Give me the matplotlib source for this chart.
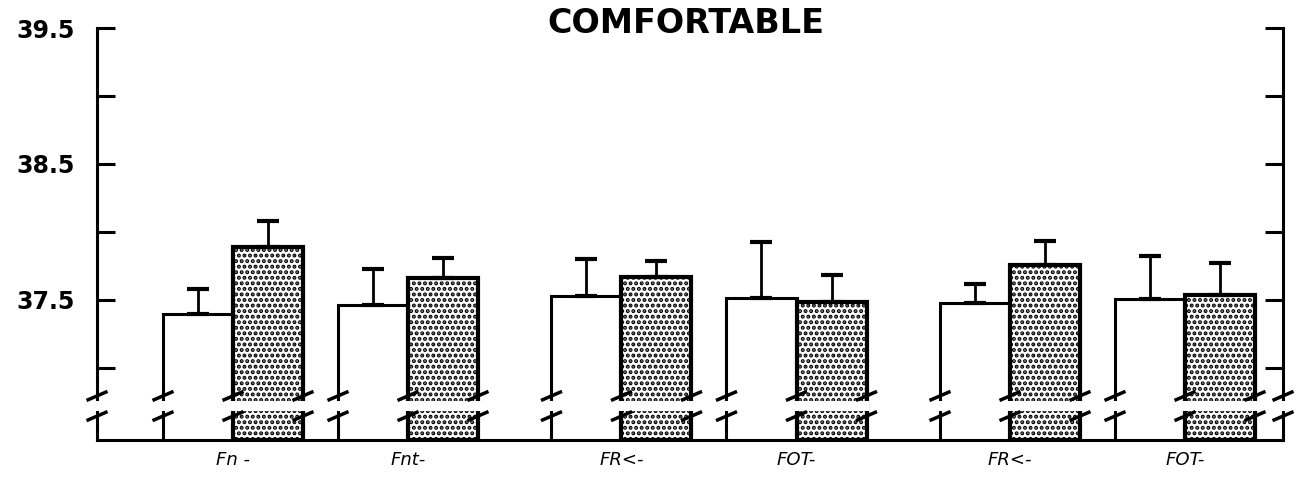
import matplotlib.pyplot as plt
import matplotlib.transforms as mtransforms
import numpy as np

# data
groups = ['Fn -', 'Fnt-', 'FR<-', 'FOT-', 'FR<-', 'FOT-']
centers = np.array([0, 1, 2.22, 3.22, 4.44, 5.44])
white_vals = np.array([37.40, 37.46, 37.53, 37.515, 37.48, 37.51])
white_err = np.array([0.18, 0.27, 0.27, 0.41, 0.14, 0.31])
dot_vals = np.array([37.89, 37.66, 37.67, 37.485, 37.76, 37.54])
dot_err = np.array([0.19, 0.15, 0.12, 0.195, 0.17, 0.23])
yticks = [37.0, 37.5, 38.0, 38.5, 39.0, 39.5]
ylabels = ['', '37.5', '', '38.5', '', '39.5']

ylow, yhigh = 36.47, 39.5
w = 0.4

plt.rcParams['hatch.linewidth'] = 2.0

fig = plt.figure(figsize=(13.04, 4.84), dpi=100)
ax = fig.add_axes([0.0744, 0.0909, 0.9095, 0.8512])

# white bars and stippled bars, drawn from the bottom of the axes
ax.bar(centers - w/2, white_vals - ylow, bottom=ylow, width=w,
       facecolor='white', edgecolor='black', linewidth=2.2, zorder=3)
ax.bar(centers + w/2, dot_vals - ylow, bottom=ylow, width=w,
       facecolor='white', edgecolor='black', hatch='...', linewidth=3, zorder=3)

# error bars, upward only
ax.errorbar(centers - w/2, white_vals, yerr=[np.zeros_like(white_err), white_err],
            fmt='none', ecolor='black', elinewidth=2, capsize=8, capthick=3, zorder=4)
ax.errorbar(centers + w/2, dot_vals, yerr=[np.zeros_like(dot_err), dot_err],
            fmt='none', ecolor='black', elinewidth=2, capsize=8, capthick=3, zorder=4)

ax.set_xlim(-0.777, 6.0)
ax.set_ylim(ylow, yhigh)

# axes look
ax.spines['top'].set_visible(False)
for s in ['left', 'right', 'bottom']:
    ax.spines[s].set_linewidth(2.2)
ax.set_yticks(yticks)
ax.set_yticklabels(ylabels, fontsize=17, fontweight='bold')
ax.tick_params(axis='y', direction='in', length=13, width=2.2, pad=16,
               left=True, right=True)
ax.set_xticks(centers)
ax.set_xticklabels(groups, fontsize=13, fontstyle='italic')
ax.tick_params(axis='x', length=0, pad=8)

# broken axis marks
trans = mtransforms.blended_transform_factory(ax.transData, ax.transAxes)
band_lo, band_hi = 0.07, 0.095
slash_y = [0.107, 0.058]
edges = []
for c in centers:
    ax.add_patch(plt.Rectangle((c - w - 0.015, band_lo), 2*w + 0.03, band_hi - band_lo,
                               transform=trans, facecolor='white', edgecolor='none',
                               zorder=6, clip_on=False))
    edges += [c - w, c, c + w]
for xe in [-0.777, 6.0]:
    ax.add_patch(plt.Rectangle((xe - 0.03, band_lo), 0.06, band_hi - band_lo,
                               transform=trans, facecolor='white', edgecolor='none',
                               zorder=6, clip_on=False))
    edges.append(xe)
for xe in edges:
    for sy in slash_y:
        ax.plot([xe - 0.06, xe + 0.06], [sy - 0.011, sy + 0.011], color='black',
                lw=2.5, transform=trans, zorder=7, clip_on=False, solid_capstyle='butt')

fig.text(0.526, 1 - 33/484, 'COMFORTABLE', ha='center', va='baseline',
         fontsize=24, fontweight='bold')

fig.savefig('out.png', dpi=100)
